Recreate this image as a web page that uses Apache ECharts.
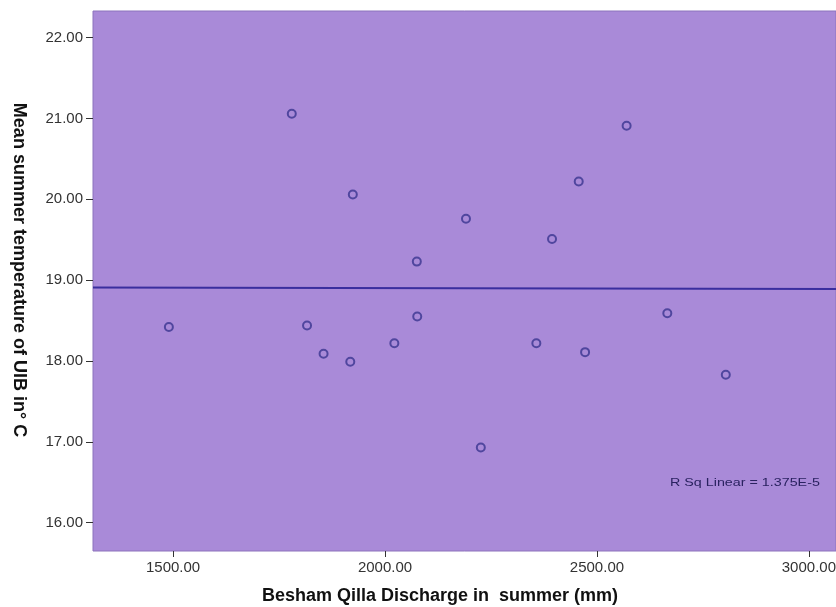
<!DOCTYPE html>
<html>
<head>
<meta charset="utf-8">
<script src="https://cdn.jsdelivr.net/npm/echarts@6/dist/echarts.min.js"></script>
<style>
  html, body { margin: 0; padding: 0; background: #fff; }
  #chart { width: 836px; height: 607px; }
</style>
</head>
<body>
<div id="chart"></div>
<script>
// data
var discharge = [1490, 1780, 1816, 1855, 1918, 1924, 2022, 2076, 2075, 2191, 2226, 2357, 2394, 2457, 2472, 2570, 2666, 2804];
var temperature = [18.42, 21.06, 18.44, 18.09, 17.99, 20.06, 18.22, 18.55, 19.23, 19.76, 16.93, 18.22, 19.51, 20.22, 18.11, 20.91, 18.59, 17.83];
var fitX = [1311, 3064];
var fitY = [18.91, 18.89];
var xTicks = [1500, 2000, 2500, 3000];
var yTicks = [16, 17, 18, 19, 20, 21, 22];
var rSqText = 'R Sq Linear = 1.375E-5';

var points = discharge.map(function (d, i) { return [d, temperature[i]]; });
var fitLine = fitX.map(function (d, i) { return [d, fitY[i]]; });

var myChart = echarts.init(document.getElementById('chart'));

var labelStyle = { color: '#333', fontSize: 15, fontFamily: 'Liberation Sans, Arial, sans-serif' };

var option = {
    backgroundColor: '#fff',
    animation: false,
    grid: {
        left: 93, right: 0, top: 11, bottom: 56,
        outerBoundsMode: 'none',
        containLabel: false,
        show: true,
        backgroundColor: '#a98ad8',
        borderColor: '#8c72bc',
        borderWidth: 1
    },
    xAxis: {
        type: 'value',
        min: fitX[0],
        max: fitX[1],
        axisLine: { show: false },
        splitLine: { show: false },
        axisTick: { show: true, length: 6, customValues: xTicks, lineStyle: { color: '#333' } },
        axisLabel: Object.assign({
            margin: 9,
            customValues: xTicks,
            formatter: function (v) { return v.toFixed(2); }
        }, labelStyle)
    },
    yAxis: {
        type: 'value',
        min: 15.65,
        max: 22.33,
        axisLine: { show: false },
        splitLine: { show: false },
        axisTick: { show: true, length: 7, customValues: yTicks, lineStyle: { color: '#333' } },
        axisLabel: Object.assign({
            margin: 10,
            customValues: yTicks,
            formatter: function (v) { return v.toFixed(2); }
        }, labelStyle)
    },
    series: [
        {
            type: 'line',
            data: fitLine,
            showSymbol: false,
            silent: true,
            lineStyle: { color: '#3a2e9e', width: 2 },
            z: 2
        },
        {
            type: 'scatter',
            data: points,
            symbol: 'circle',
            symbolSize: 8,
            itemStyle: { color: 'rgba(0,0,0,0)', borderColor: '#3a3590', borderWidth: 2 },
            z: 3
        }
    ],
    graphic: [
        {
            type: 'text',
            x: 440, y: 596,
            style: {
                text: 'Besham Qilla Discharge in  summer (mm)',
                fontSize: 18, fontWeight: 'bold',
                fontFamily: 'Liberation Sans, Arial, sans-serif',
                fill: '#111', align: 'center', verticalAlign: 'middle'
            }
        },
        {
            type: 'text',
            x: 19, y: 270,
            rotation: -Math.PI / 2,
            style: {
                text: 'Mean summer temperature of UIB in° C',
                fontSize: 18, fontWeight: 'bold',
                fontFamily: 'Liberation Sans, Arial, sans-serif',
                fill: '#111', align: 'center', verticalAlign: 'middle'
            }
        },
        {
            type: 'text',
            x: 670, y: 483,
            scaleX: 1.3,
            style: {
                text: rSqText,
                fontSize: 11,
                fontFamily: 'Liberation Sans, Arial, sans-serif',
                fill: '#2a2260', align: 'left', verticalAlign: 'middle'
            }
        }
    ]
};
myChart.setOption(option);
</script>
</body>
</html>
